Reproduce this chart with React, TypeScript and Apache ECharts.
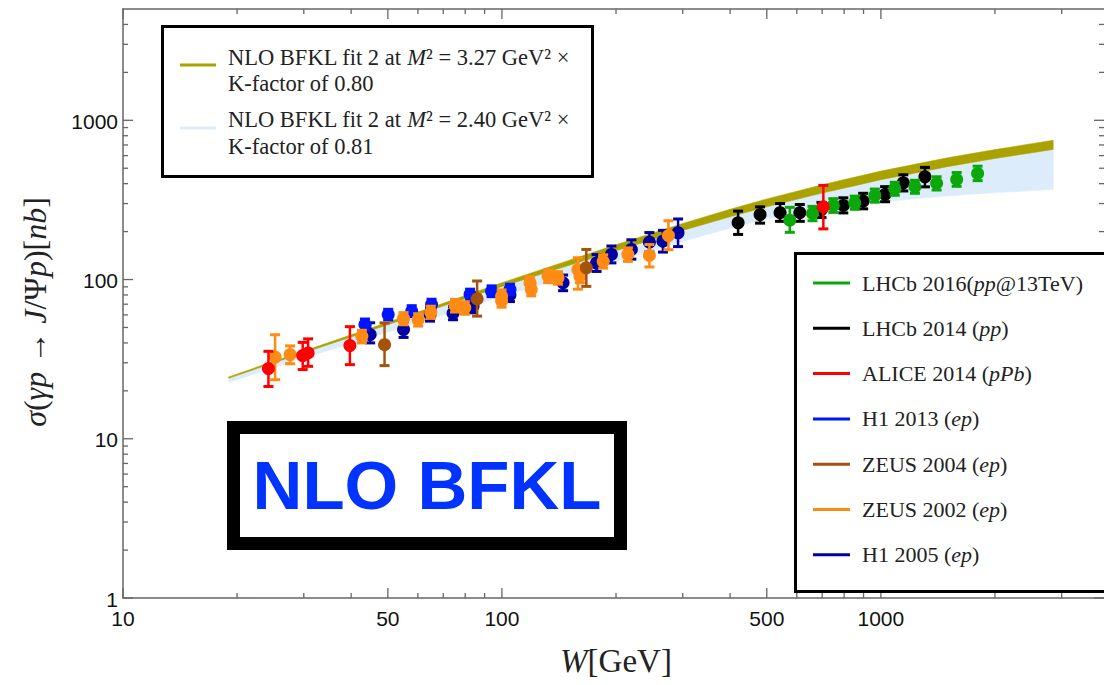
import React, { useEffect, useRef } from "react";
import * as echarts from "echarts";

// ---------- theory bands ----------
const bandW = [19, 25, 30, 40, 50, 70, 100, 150, 200, 300, 400, 500, 700, 850, 1000, 1200, 1500, 2000, 2850];
const fitM327Upper = [24.46, 30.69, 35.52, 44.93, 53.89, 70.96, 95.5, 131.8, 165.6, 224.9, 276.4, 321.0, 393.6, 438.5, 479.7, 523.6, 582.1, 654.6, 749.9];
const fitM327Lower = [23.96, 29.99, 34.64, 43.61, 52.06, 68.08, 90.36, 122.5, 151.7, 203.2, 247.5, 286.1, 349.1, 387.3, 423.6, 460.3, 511.7, 575.4, 656.1];
const fitM240Upper = [24.0, 30.0, 34.7, 43.7, 52.1, 68.2, 90.6, 122.9, 152.2, 203.9, 248.3, 287.0, 350.2, 388.5, 425.0, 461.8, 513.4, 577.3, 658.3];
const fitM240Lower = [22.59, 27.99, 31.99, 39.63, 46.67, 59.7, 78.16, 105.2, 130.0, 173.8, 210.2, 240.7, 281.2, 298.5, 305.5, 319.9, 335.0, 350.8, 368.1];

// ---------- data ----------
const aliceW = [24.2, 29.8, 30.8, 39.7, 705];
const aliceS = [27.6, 33.3, 34.6, 38.5, 286];
const aliceLo = [21.3, 27.2, 28.5, 29.2, 208];
const aliceHi = [35.4, 40.3, 42.4, 50.6, 390];

const lhcb14W = [420, 480, 542, 611, 697, 796, 898, 1026, 1146, 1307];
const lhcb14S = [227, 256, 263, 263, 275, 292, 311, 343, 405, 442];
const lhcb14Lo = [192, 226, 232, 232, 245, 262, 278, 308, 360, 382];
const lhcb14Hi = [269, 286, 300, 296, 305, 326, 348, 383, 455, 506];

const lhcb16W = [575, 660, 749, 853, 964, 1088, 1230, 1403, 1585, 1800];
const lhcb16S = [236, 260, 292, 304, 337, 372, 383, 402, 425, 464];
const lhcb16Lo = [198, 234, 264, 276, 306, 338, 348, 365, 385, 418];
const lhcb16Hi = [284, 288, 322, 334, 370, 408, 420, 442, 470, 515];

const h113W = [43.5, 50.1, 57.8, 65.2, 82.4, 93.9, 105];
const h113S = [52.1, 60.3, 63.2, 69.6, 80.5, 84.4, 86.5];
const h113Lo = [48.2, 55.8, 58.5, 64.4, 74.5, 78.1, 80.1];
const h113Hi = [56.5, 65.0, 68.5, 75.2, 87.0, 91.2, 93.4];

const zeus04W = [49, 86, 167];
const zeus04S = [39, 75.6, 118.5];
const zeus04Lo = [28.8, 58.9, 90.6];
const zeus04Hi = [53.4, 97.9, 154.5];

const zeus02W = [25.2, 27.6, 42.7, 55, 60.1, 64.9, 75.2, 79.8, 99.8, 99.8, 118.6, 119.5, 132.4, 140.6, 158.7, 160.6, 185, 215, 245, 275];
const zeus02S = [32.6, 33.8, 44.0, 56.9, 56, 62.3, 68.6, 66.4, 78.6, 73.3, 95.3, 86.5, 105, 102.5, 115.6, 105, 130, 143.7, 141.6, 189];
const zeus02Lo = [23.5, 29.6, 40, 52, 51, 57, 62.5, 60.5, 71.5, 67, 87, 79, 95.5, 93.5, 87, 95.5, 118, 130, 120, 154];
const zeus02Hi = [45, 38.3, 48, 62, 61, 68, 75, 72.5, 86, 80, 104, 94.5, 115, 112, 137, 115, 143, 158, 166, 234];

const h105W = [44.9, 55, 64.6, 74.3, 83.9, 105, 145, 177.7, 194.5, 219.6, 245, 266, 291.6];
const h105S = [45.1, 48.5, 60.3, 61.5, 68, 80, 95.3, 127, 143.7, 154.5, 171.6, 174, 196.7];
const h105Lo = [40, 43.3, 54.8, 55.9, 61.8, 72.7, 85.1, 112.4, 127.2, 134.3, 149.2, 148.7, 161];
const h105Hi = [53.5, 54.3, 66.3, 67.7, 74.8, 88.0, 106.7, 143.5, 162.4, 177.7, 197.3, 203.6, 240];

// ---------- axis ticks ----------
const xMajorTicks = [10, 50, 100, 500, 1000];
const xMinorTicks = [20, 30, 40, 60, 70, 80, 90, 200, 300, 400, 600, 700, 800, 900, 2000, 3000];
const xTickLabels = ["10", "50", "100", "500", "1000"];
const yMajorTicks = [1, 10, 100, 1000];
const yMinorTicks = [2, 3, 4, 5, 6, 7, 8, 9, 20, 30, 40, 50, 60, 70, 80, 90, 200, 300, 400, 500, 600, 700, 800, 900, 2000, 3000, 4000];
const yTickLabels = ["1", "10", "100", "1000"];

const X_MIN = 10;
const X_MAX = 3880;
const Y_MIN = 1;
const Y_MAX = 5000;

const COLORS = {
  olive: "#aaa200",
  lightBlue: "#ddecfa",
  lhcb16: "#0aa80a",
  lhcb14: "#000000",
  alice: "#ff0000",
  h113: "#0014ff",
  zeus04: "#a5520a",
  zeus02: "#ff8a14",
  h105: "#0000a2",
};

function zip4(a: number[], b: number[], c: number[], d: number[]) {
  return a.map((v, i) => [v, b[i], c[i], d[i]]);
}

function errSeries(name: string, color: string, data: number[][]) {
  return {
    type: "custom",
    name,
    silent: true,
    clip: false,
    dimensions: ["W", "s", "lo", "hi"],
    encode: { x: 0, y: 1 },
    data,
    renderItem: (params: any, api: any) => {
      const x = api.value(0);
      const p = api.coord([x, api.value(1)]);
      const pl = api.coord([x, api.value(2)]);
      const ph = api.coord([x, api.value(3)]);
      const cw = 5;
      return {
        type: "group",
        children: [
          { type: "line", shape: { x1: p[0], y1: ph[1], x2: p[0], y2: pl[1] }, style: { stroke: color, lineWidth: 2.5 } },
          { type: "line", shape: { x1: p[0] - cw, y1: ph[1], x2: p[0] + cw, y2: ph[1] }, style: { stroke: color, lineWidth: 3 } },
          { type: "line", shape: { x1: p[0] - cw, y1: pl[1], x2: p[0] + cw, y2: pl[1] }, style: { stroke: color, lineWidth: 3 } },
          { type: "circle", shape: { cx: p[0], cy: p[1], r: 6.5 }, style: { fill: color } },
        ],
      };
    },
  };
}

function bandSeries(name: string, color: string, upper: number[], lower: number[]) {
  return {
    type: "custom",
    name,
    silent: true,
    clip: true,
    data: bandW.map((w, i) => [w, upper[i], lower[i]]),
    encode: { x: 0, y: 1 },
    renderItem: (params: any, api: any) => {
      if (params.dataIndex !== 0) return null;
      const pts: number[][] = [];
      for (let i = 0; i < bandW.length; i++) pts.push(api.coord([bandW[i], upper[i]]));
      for (let i = bandW.length - 1; i >= 0; i--) pts.push(api.coord([bandW[i], lower[i]]));
      return { type: "polygon", shape: { points: pts }, style: { fill: color, stroke: color, lineWidth: 0.5 } };
    },
  };
}

function xTickSeries(values: number[], len: number) {
  return {
    type: "custom",
    silent: true,
    clip: false,
    data: values.map((v) => [v, Y_MIN]),
    encode: { x: 0, y: 1 },
    renderItem: (params: any, api: any) => {
      const b = api.coord([api.value(0), Y_MIN]);
      const t = api.coord([api.value(0), Y_MAX]);
      return {
        type: "group",
        children: [
          { type: "line", shape: { x1: b[0], y1: b[1], x2: b[0], y2: b[1] - len }, style: { stroke: "#666", lineWidth: 1.3 } },
          { type: "line", shape: { x1: t[0], y1: t[1], x2: t[0], y2: t[1] + len }, style: { stroke: "#666", lineWidth: 1.3 } },
        ],
      };
    },
  };
}

function yTickSeries(values: number[], len: number) {
  return {
    type: "custom",
    silent: true,
    clip: false,
    data: values.map((v) => [X_MIN, v]),
    encode: { x: 0, y: 1 },
    renderItem: (params: any, api: any) => {
      const l = api.coord([X_MIN, api.value(1)]);
      const r = api.coord([X_MAX, api.value(1)]);
      return {
        type: "group",
        children: [
          { type: "line", shape: { x1: l[0], y1: l[1], x2: l[0] + len, y2: l[1] }, style: { stroke: "#666", lineWidth: 1.3 } },
          { type: "line", shape: { x1: r[0], y1: r[1], x2: r[0] - len, y2: r[1] }, style: { stroke: "#666", lineWidth: 1.3 } },
        ],
      };
    },
  };
}

function xLabelSeries() {
  return {
    type: "custom",
    silent: true,
    clip: false,
    data: xMajorTicks.map((v, i) => [v, Y_MIN, i]),
    encode: { x: 0, y: 1 },
    renderItem: (params: any, api: any) => {
      const p = api.coord([api.value(0), Y_MIN]);
      return {
        type: "text",
        x: p[0],
        y: p[1] + 20,
        style: {
          text: xTickLabels[params.dataIndex],
          fontFamily: "Liberation Sans",
          fontSize: 21,
          fill: "#111",
          align: "center",
          verticalAlign: "middle",
        },
      };
    },
  };
}

function yLabelSeries() {
  return {
    type: "custom",
    silent: true,
    clip: false,
    data: yMajorTicks.map((v) => [X_MIN, v]),
    encode: { x: 0, y: 1 },
    renderItem: (params: any, api: any) => {
      const p = api.coord([X_MIN, api.value(1)]);
      return {
        type: "text",
        x: p[0] - 5,
        y: p[1] + 1,
        style: {
          text: yTickLabels[params.dataIndex],
          fontFamily: "Liberation Sans",
          fontSize: 21,
          fill: "#111",
          align: "right",
          verticalAlign: "middle",
        },
      };
    },
  };
}

const serif = "Liberation Serif";
function richStyles(size: number) {
  return {
    n: { fontFamily: serif, fontSize: size, fill: "#222" },
    i: { fontFamily: serif, fontSize: size, fontStyle: "italic", fill: "#222" },
  };
}

function legendText(x: number, y: number, text: string, size: number) {
  return {
    type: "text",
    x,
    y,
    z: 101,
    style: { text, rich: richStyles(size), verticalAlign: "middle", align: "left", fontFamily: serif, fontSize: size, fill: "#222" },
  };
}

const rightLegendItems = [
  { label: "{n|LHCb 2016(}{i|pp}{n|@13TeV)}", color: COLORS.lhcb16 },
  { label: "{n|LHCb 2014 (}{i|pp}{n|)}", color: COLORS.lhcb14 },
  { label: "{n|ALICE 2014 (}{i|pPb}{n|)}", color: COLORS.alice },
  { label: "{n|H1 2013 (}{i|ep}{n|)}", color: COLORS.h113 },
  { label: "{n|ZEUS 2004 (}{i|ep}{n|)}", color: COLORS.zeus04 },
  { label: "{n|ZEUS 2002 (}{i|ep}{n|)}", color: COLORS.zeus02 },
  { label: "{n|H1 2005 (}{i|ep}{n|)}", color: COLORS.h105 },
];

const SP = "\u2005";

function buildGraphics() {
  const g: any[] = [];
  // top-left legend
  g.push({ type: "rect", z: 100, shape: { x: 162.5, y: 26.5, width: 430, height: 150 }, style: { fill: "#fff", stroke: "#000", lineWidth: 3 } });
  g.push({ type: "line", z: 101, shape: { x1: 180, y1: 65, x2: 216, y2: 65 }, style: { stroke: COLORS.olive, lineWidth: 3 } });
  g.push(legendText(228, 57, `{n|NLO BFKL fit 2 at }{i|M}{n|²${SP}=${SP}3.27 GeV²${SP}×}`, 22.5));
  g.push(legendText(228, 83, "{n|K-factor of 0.80}", 22.5));
  g.push({ type: "line", z: 101, shape: { x1: 180, y1: 128, x2: 216, y2: 128 }, style: { stroke: COLORS.lightBlue, lineWidth: 3 } });
  g.push(legendText(228, 119, `{n|NLO BFKL fit 2 at }{i|M}{n|²${SP}=${SP}2.40 GeV²${SP}×}`, 22.5));
  g.push(legendText(228, 146, "{n|K-factor of 0.81}", 22.5));

  // right legend
  g.push({ type: "rect", z: 100, shape: { x: 795.5, y: 253.5, width: 330, height: 338 }, style: { fill: "#fff", stroke: "#000", lineWidth: 3 } });
  rightLegendItems.forEach((it, i) => {
    const y = 283 + i * 45.3;
    g.push({ type: "line", z: 101, shape: { x1: 813, y1: y, x2: 850, y2: y }, style: { stroke: it.color, lineWidth: 3 } });
    g.push(legendText(862, y, it.label, 22));
  });

  // NLO BFKL box
  g.push({ type: "rect", z: 100, shape: { x: 233.5, y: 427.5, width: 387, height: 116 }, style: { fill: "#fff", stroke: "#000", lineWidth: 13 } });
  g.push({
    type: "text",
    z: 101,
    x: 427,
    y: 485,
    style: { text: "NLO BFKL", fontFamily: "Liberation Sans", fontWeight: "bold", fontSize: 69, fill: "#0033ff", align: "center", verticalAlign: "middle" },
  });

  // axis titles
  g.push({
    type: "text",
    z: 50,
    x: 35,
    y: 312,
    rotation: Math.PI / 2,
    style: {
      text: "{i|σ}{n|(}{i|γp}{n| → }{i|J}{n|/Ψ}{i|p}{n|)[}{i|nb}{n|]}",
      rich: richStyles(32),
      align: "center",
      verticalAlign: "middle",
    },
  });
  g.push({
    type: "text",
    z: 50,
    x: 616,
    y: 661,
    style: {
      text: "{i|W}{n|[GeV]}",
      rich: richStyles(33),
      align: "center",
      verticalAlign: "middle",
    },
  });
  return g;
}

export default function App() {
  const ref = useRef<HTMLDivElement>(null);
  useEffect(() => {
    if (!ref.current) return;
    const chart = echarts.init(ref.current, null, { renderer: "svg" });
    const axisLineStyle = { color: "#666", width: 1.5 };
    chart.setOption({
      animation: false,
      backgroundColor: "#fff",
      grid: { left: 123, right: 0, top: 9, bottom: 87 },
      xAxis: [
        {
          type: "log",
          logBase: 10,
          min: X_MIN,
          max: X_MAX,
          position: "bottom",
          axisLine: { show: true, lineStyle: axisLineStyle },
          axisTick: { show: false },
          axisLabel: { show: false },
          splitLine: { show: false },
        },
        {
          type: "log",
          logBase: 10,
          min: X_MIN,
          max: X_MAX,
          position: "top",
          axisLine: { show: true, lineStyle: axisLineStyle },
          axisTick: { show: false },
          axisLabel: { show: false },
          splitLine: { show: false },
        },
      ],
      yAxis: {
        type: "log",
        logBase: 10,
        min: Y_MIN,
        max: Y_MAX,
        axisLine: { show: true, lineStyle: axisLineStyle },
        axisTick: { show: false },
        axisLabel: { show: false },
        splitLine: { show: false },
      },
      series: [
        bandSeries("NLO BFKL fit 2 M2=2.40", COLORS.lightBlue, fitM240Upper, fitM240Lower),
        bandSeries("NLO BFKL fit 2 M2=3.27", COLORS.olive, fitM327Upper, fitM327Lower),
        xTickSeries(xMajorTicks, 10),
        xTickSeries(xMinorTicks, 5),
        yTickSeries(yMajorTicks, 10),
        yTickSeries(yMinorTicks, 5),
        xLabelSeries(),
        yLabelSeries(),
        errSeries("H1 2005", COLORS.h105, zip4(h105W, h105S, h105Lo, h105Hi)),
        errSeries("H1 2013", COLORS.h113, zip4(h113W, h113S, h113Lo, h113Hi)),
        errSeries("ZEUS 2002", COLORS.zeus02, zip4(zeus02W, zeus02S, zeus02Lo, zeus02Hi)),
        errSeries("ZEUS 2004", COLORS.zeus04, zip4(zeus04W, zeus04S, zeus04Lo, zeus04Hi)),
        errSeries("LHCb 2014", COLORS.lhcb14, zip4(lhcb14W, lhcb14S, lhcb14Lo, lhcb14Hi)),
        errSeries("LHCb 2016", COLORS.lhcb16, zip4(lhcb16W, lhcb16S, lhcb16Lo, lhcb16Hi)),
        errSeries("ALICE 2014", COLORS.alice, zip4(aliceW, aliceS, aliceLo, aliceHi)),
      ],
      graphic: buildGraphics(),
    });
    return () => chart.dispose();
  }, []);
  return (
    <div
      ref={ref}
      style={{ position: "fixed", left: 0, top: 0, width: 1104, height: 685, background: "#fff" }}
    />
  );
}
